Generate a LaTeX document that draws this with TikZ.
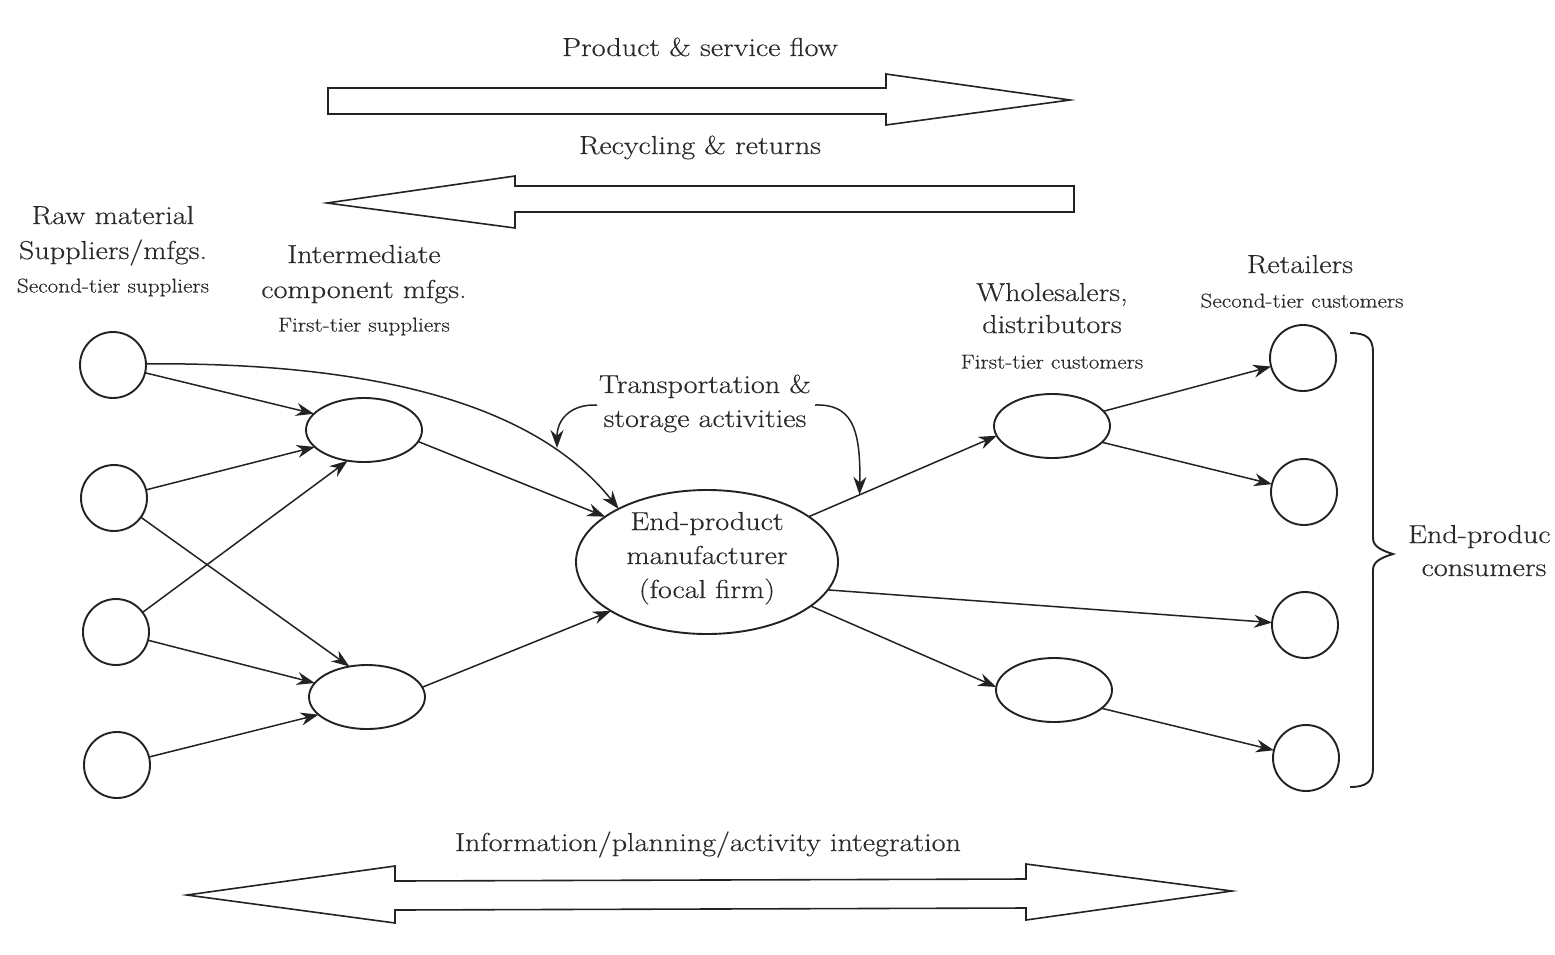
\documentclass[tikz,border=0pt]{standalone}
\usepackage{fontspec}
\setmainfont{Latin Modern Roman}[FakeStretch=1.16,FakeBold=0.4]
\usetikzlibrary{arrows.meta,shapes.geometric,calc}
\definecolor{ink}{HTML}{222222}
\definecolor{txt}{HTML}{2A2A2A}
\begin{document}
\begin{tikzpicture}[x=1pt,y=-1pt,
  every node/.style={inner sep=0pt, outer sep=0pt},
  circ/.style={circle, draw=ink, line width=1.9pt, minimum size=66pt},
  ell/.style={ellipse, draw=ink, line width=1.9pt, minimum width=116pt, minimum height=64pt},
  bigell/.style={ellipse, draw=ink, line width=1.9pt, minimum width=262pt, minimum height=144pt},
  big/.style={text=txt, font=\fontsize{26}{32}\selectfont, text height=18pt, text depth=6pt},
  small/.style={text=txt, font=\fontsize{20}{24}\selectfont, text height=14pt, text depth=5pt},
  arr/.style={draw=ink, line width=1.5pt, -{Stealth[length=18pt,width=13pt]}},
  hollow/.style={draw=ink, line width=1.6pt, fill=white, line join=miter},
  bracepath/.style={draw=ink, line width=1.9pt}]
\useasboundingbox (0,0) rectangle (1555,954);

% big hollow arrows
\draw[hollow] (328,88) -- (886,88) -- (886,74) -- (1070,100) -- (886,125) -- (886,114) -- (328,114) -- cycle;
\draw[hollow] (1074,186) -- (515,186) -- (515,176) -- (327,203) -- (515,228) -- (515,212) -- (1074,212) -- cycle;
\draw[hollow] (187,895) -- (395,866) -- (395,881) -- (1026,879) -- (1026,864) -- (1232,891) -- (1026,920) -- (1026,908) -- (395,910) -- (395,923) -- cycle;

% titles
\node[big] (tprod) at (700,50) {Product \& service flow};
\node[big] (trec) at (700,148) {Recycling \& returns};
\node[big] (tinfo) at (708,845) {Information/planning/activity integration};

% nodes
\node[circ] (L1) at (113,365) {};
\node[circ] (L2) at (114,498) {};
\node[circ] (L3) at (116,632) {};
\node[circ] (L4) at (117,765) {};
\node[ell] (I1) at (364,430) {};
\node[ell] (I2) at (367,697) {};
\node[bigell] (F) at (707,562) {};
\node[ell] (W1) at (1052,426) {};
\node[ell] (W2) at (1054,690) {};
\node[circ] (R1) at (1303,358) {};
\node[circ] (R2) at (1304,492) {};
\node[circ] (R3) at (1305,625) {};
\node[circ] (R4) at (1306,758) {};

% focal firm text
\node[big] (f1) at (707,524) {End-product};
\node[big] (f2) at (707,558) {manufacturer};
\node[big] (f3) at (707,592) {(focal firm)};

% group labels
\node[big] (raw1) at (113,218) {Raw material};
\node[big] (raw2) at (113,253) {Suppliers/mfgs.};
\node[small] (raw3) at (113,288) {Second-tier suppliers};
\node[big] (int1) at (364,257) {Intermediate};
\node[big] (int2) at (364,292) {component mfgs.};
\node[small] (int3) at (364,327) {First-tier suppliers};
\node[big] (wh1) at (1052,295) {Wholesalers,};
\node[big] (wh2) at (1052,327) {distributors};
\node[small] (wh3) at (1052,364) {First-tier customers};
\node[big] (ret1) at (1300,267) {Retailers};
\node[small] (ret2) at (1302,303) {Second-tier customers};
\node[big] (tr1) at (705,387) {Transportation \&};
\node[big] (tr2) at (705,421) {storage activities};
\node[big, anchor=west] (cons1) at (1408,537) {End-produc};
\node[big] (cons2) at (1484,570) {consumers};

% left connectors
\draw[arr] (L1) -- (I1.162);
\draw[arr] (L2) -- (I1.199);
\draw[arr] (L3) -- (I1.242);
\draw[arr] (L2) -- (I2.120);
\draw[arr] (L3) -- (I2.165);
\draw[arr] (L4) -- (I2.200);
\draw[arr] (L1.2) .. controls (390,362) and (540,410) .. (F.149);
\draw[arr] (I1.-12) -- (F.156);
\draw[arr] (I2.10) -- (F.207);

% right connectors
\draw[arr] (F.24) -- (W1.190);
\draw[arr] (F.-23) -- (W2.177);
\draw[arr] (F.-13) -- (R3);
\draw[arr] (W1.16) -- (R1);
\draw[arr] (W1.-18) -- (R2);
\draw[arr] (W2.-21) -- (R4);

% transportation pointers
\coordinate (tl) at (597,405);
\coordinate (tlend) at (557,448);
\coordinate (tr) at (815,405);
\coordinate (trend) at ($(F.24)!0.27!(W1.190)$);
\draw[arr] (tl) .. controls (570,404) and (557,420) .. (tlend);
\draw[arr] (tr) .. controls (850,404) and (861,425) .. (trend);

% brace
\draw[bracepath] (1350,333) .. controls (1366,333) and (1373,338) .. (1373,352) -- (1373,538)
  .. controls (1373,546) and (1380,550) .. (1393,554)
  .. controls (1380,558) and (1373,562) .. (1373,570) -- (1373,768)
  .. controls (1373,782) and (1366,787) .. (1350,787);
\end{tikzpicture}
\end{document}
